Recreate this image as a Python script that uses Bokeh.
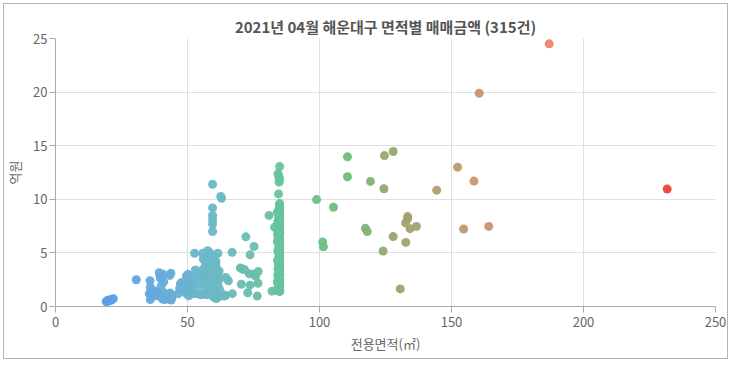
from bokeh.plotting import figure
from bokeh.models import Range1d, FixedTicker, ColumnDataSource, LinearColorMapper
from bokeh.embed import file_html
from bokeh.resources import INLINE

title_text = "2021년 04월 해운대구 면적별 매매금액 (315건)"
x_label = "전용면적(㎡)"
y_label = "억원"
x_ticks = [0, 50, 100, 150, 200, 250]
y_ticks = [0, 5, 10, 15, 20, 25]

# studio units (~20㎡)
area_g1 = [19.2, 19.6, 20.0, 20.3, 20.8, 21.4, 21.9]
price_g1 = [0.45, 0.55, 0.5, 0.6, 0.55, 0.65, 0.72]

# 30-46㎡
area_g2 = [30.6, 35.8, 35.9, 35.5, 36.3, 35.9, 36.5, 37.8, 38.5, 39.3, 39.6, 40.8,
           39.8, 41.0, 40.0, 39.0, 39.6, 40.2, 41.0, 41.5, 42.0, 42.5, 43.0, 43.7,
           43.3, 43.5, 44.0, 44.3, 42.8, 43.8, 41.3, 40.6, 37.0, 38.0]
price_g2 = [2.5, 2.4, 1.8, 1.2, 1.1, 0.65, 0.9, 1.2, 1.0, 3.15, 2.9, 3.0,
            2.6, 2.3, 1.9, 1.2, 1.0, 0.85, 1.3, 1.0, 0.8, 0.7, 0.9, 3.1,
            2.9, 1.25, 0.75, 1.0, 1.1, 0.6, 0.65, 0.7, 1.5, 1.4]

# 46-56㎡
area_g3 = [46.5, 47.3, 47.8, 48.5, 48.9, 49.6, 50.2, 49.6, 50.5, 51.0, 51.5, 52.0,
           52.1, 49.6, 50.5, 51.8, 53.3, 52.7, 54.3, 54.6, 53.5, 48.0, 47.0, 50.0,
           51.0, 55.0, 55.5, 54.8, 53.0, 55.2]
price_g3 = [1.2, 2.1, 2.25, 1.8, 2.0, 2.85, 3.0, 1.9, 2.2, 2.6, 2.9, 2.2,
            1.8, 1.2, 1.0, 1.2, 1.2, 4.97, 1.19, 2.97, 2.5, 1.5, 1.7, 1.4,
            1.6, 1.1, 3.1, 2.0, 3.4, 2.6]

# 55-65㎡
area_g4 = [59.5, 62.6, 62.9, 59.5, 59.5, 59.5, 59.5, 59.5, 55.8, 56.2, 56.0, 57.6,
           58.5, 59.0, 61.5, 59.8, 60.2, 59.3, 60.0,
           57.0, 57.5, 58.0, 58.4, 58.8, 59.2, 59.6, 60.0, 60.4, 60.8, 61.2, 59.0,
           59.4, 59.8, 60.2, 60.6, 61.0, 59.1, 58.7, 58.2, 57.8, 57.2, 56.8, 56.4,
           56.6, 57.0, 57.4, 58.0, 58.6, 59.2, 59.8, 60.4, 61.0, 60.6, 61.2, 61.6,
           61.8, 60.0, 59.5, 59.0, 58.5, 58.0, 57.6, 60.9, 61.3, 61.6, 60.1, 59.7,
           59.3, 58.9, 59.6, 60.3, 60.7, 61.1, 60.5, 59.9, 59.3, 58.7, 58.3, 57.7,
           57.3, 56.5, 55.5, 62.0, 62.3, 64.0, 64.4, 60.8, 61.4, 62.0, 56.0, 56.9,
           55.6, 58.1]
price_g4 = [11.4, 10.27, 10.1, 9.2, 8.5, 8.1, 7.7, 7.0, 4.97, 4.6, 4.4, 5.2,
            5.0, 4.8, 4.97, 4.6, 4.4, 4.2, 4.0,
            3.8, 3.5, 3.3, 3.0, 2.8, 2.6, 2.4, 2.2, 2.0, 1.8, 1.6, 3.9,
            3.7, 3.5, 3.3, 3.1, 2.9, 3.4, 3.6, 3.9, 2.7, 2.9, 3.1, 2.6,
            2.2, 2.0, 1.8, 1.5, 1.3, 1.1, 0.9, 0.8, 0.75, 1.2, 1.0, 1.3,
            0.9, 1.4, 1.6, 1.9, 2.1, 2.3, 2.5, 2.5, 2.2, 1.9, 2.8, 3.0,
            3.2, 4.3, 4.5, 3.7, 3.9, 3.5, 2.6, 1.8, 2.0, 2.4, 1.7, 1.2,
            1.1, 1.15, 1.2, 2.53, 1.5, 0.98, 1.04, 4.2, 3.0, 3.3, 3.5, 4.0,
            2.4, 4.6]

# 64-83㎡
area_g5 = [66.9, 72.1, 75.2, 73.7, 70.0, 70.8, 71.5, 73.4, 75.0, 76.8, 75.8, 70.4,
           73.7, 76.7, 72.8, 76.4, 80.9, 82.0, 83.0, 65.5, 67.0, 64.5]
price_g5 = [5.05, 6.5, 5.6, 4.82, 3.6, 3.5, 3.45, 3.05, 3.0, 3.27, 2.85, 2.08,
            1.99, 2.17, 1.28, 0.98, 8.5, 1.43, 7.4, 2.4, 1.2, 2.7]

# 84㎡ column
area_g6 = [84.9, 84.3, 84.6, 84.9, 84.7, 84.5, 84.9, 84.8, 84.9, 84.6, 84.9, 84.7,
           84.9, 84.5, 84.9, 84.8, 84.6, 84.9, 84.7, 84.9, 84.4, 84.9, 84.8, 84.6,
           84.9, 84.7, 84.9, 84.3, 84.8, 84.9, 84.6, 84.9, 84.7, 84.9, 84.5, 84.8,
           84.9, 84.6, 84.9, 84.7, 84.9, 84.4, 84.8, 84.9, 84.6, 84.9, 84.7, 84.9,
           84.5, 84.8, 84.9, 84.6, 84.9, 84.7, 84.9, 84.3, 84.8, 84.9, 84.6, 84.9,
           84.7, 84.1, 84.0, 84.2, 84.3, 84.1, 84.2, 84.0, 84.1, 83.9, 84.2, 84.0,
           84.9, 84.95, 84.95, 84.95, 84.95, 84.95, 84.95, 84.95, 84.95, 84.95, 84.95, 84.95,
           84.95, 84.95, 84.5, 84.5, 84.5, 84.5, 84.5, 84.5, 84.8, 84.8, 84.8, 84.8,
           84.8, 84.8, 83.5, 84.6]
price_g6 = [13.05, 12.4, 12.1, 11.9, 11.6, 10.5, 9.6, 9.4, 9.2, 9.0, 8.8, 8.6,
            8.4, 8.2, 8.0, 7.8, 7.6, 7.45, 7.3, 7.1, 6.95, 6.8, 6.65, 6.5,
            6.35, 6.2, 6.05, 5.9, 5.8, 5.65, 5.5, 5.4, 5.25, 5.1, 5.0, 4.9,
            4.75, 4.6, 4.5, 4.35, 4.2, 4.1, 4.0, 3.85, 3.7, 3.6, 3.45, 3.3,
            3.2, 3.05, 2.9, 2.75, 2.6, 2.45, 2.3, 2.15, 2.0, 1.85, 1.7, 1.55,
            1.45, 1.6, 2.3, 2.9, 3.5, 4.3, 5.2, 6.1, 6.7, 7.2, 7.9, 8.8,
            9.0, 7.7, 6.9, 6.0, 5.0, 4.0, 3.0, 2.0, 8.3, 5.6, 4.6, 3.6,
            2.5, 1.4, 4.3, 3.9, 6.3, 7.0, 2.6, 1.9, 5.3, 3.4, 4.45, 6.1,
            7.05, 2.25, 1.5, 8.5]

# 98-165㎡
area_g7 = [98.9, 105.3, 101.2, 101.5, 110.6, 110.6, 117.4, 118.1, 119.3, 124.1, 124.4,
           124.6, 127.9, 127.9, 130.6, 132.6, 132.7, 133.4, 133.4, 134.3, 136.7, 144.4,
           152.3, 154.6, 158.5, 160.5, 164.1]
price_g7 = [9.97, 9.26, 6.01, 5.57, 13.96, 12.1, 7.29, 6.99, 11.67, 5.18, 10.98,
            14.08, 14.46, 6.52, 1.64, 7.8, 5.98, 8.39, 8.2, 7.26, 7.47, 10.85,
            13.0, 7.23, 11.7, 19.9, 7.47]

# large units
area_g8 = [187.0, 231.7]
price_g8 = [24.5, 10.95]

area = area_g1 + area_g2 + area_g3 + area_g4 + area_g5 + area_g6 + area_g7 + area_g8
price = price_g1 + price_g2 + price_g3 + price_g4 + price_g5 + price_g6 + price_g7 + price_g8

# ---- colour scale (by area) ----
stops = [(19, (0x5b, 0x9e, 0xe6)), (40, (0x69, 0xab, 0xdc)), (58, (0x6b, 0xb8, 0xc6)),
         (85, (0x66, 0xc3, 0x9c)), (110, (0x6a, 0xbf, 0x78)), (130, (0x9c, 0xa4, 0x6e)),
         (160, (0xc9, 0x95, 0x6e)), (187, (0xf0, 0x81, 0x6f)), (232, (0xe8, 0x46, 0x3a))]
lo, hi = 19, 232
palette = []
for i in range(256):
    v = lo + (hi - lo) * i / 255
    for (a0, c0), (a1, c1) in zip(stops[:-1], stops[1:]):
        if a0 <= v <= a1:
            t = (v - a0) / (a1 - a0)
            c = tuple(int(round(c0[k] + (c1[k] - c0[k]) * t)) for k in range(3))
            break
    palette.append("#%02x%02x%02x" % c)
mapper = LinearColorMapper(palette=palette, low=lo, high=hi)

src = ColumnDataSource(dict(area=area, price=price))

FONT = "Noto Sans CJK KR"
p = figure(width=731, height=362, output_backend="svg", toolbar_location=None,
           x_range=Range1d(0, 250), y_range=Range1d(0, 25),
           min_border_left=55, min_border_right=16, min_border_top=38, min_border_bottom=56)
p.styles = {"outline": "1px solid #b4b4b4", "outline-offset": "-4px",
            "background-color": "white"}
p.border_fill_alpha = 0
p.outline_line_color = None
p.background_fill_color = "white"

p.title.text = title_text
p.title.align = "center"
p.title.text_font = FONT
p.title.text_font_size = "15px"
p.title.text_color = "#555555"
p.title.text_font_style = "bold"
p.title.offset = 0
p.title.standoff = 4

p.scatter("area", "price", source=src, size=9,
          fill_color={"field": "area", "transform": mapper},
          line_color=None, fill_alpha=0.95)

for ax in (p.xaxis, p.yaxis):
    ax.axis_line_color = "#aaaaaa"
    ax.major_tick_line_color = "#aaaaaa"
    ax.major_tick_out = 6
    ax.major_tick_in = 0
    ax.minor_tick_line_color = None
    ax.major_label_text_font = FONT
    ax.major_label_text_font_size = "13px"
    ax.major_label_text_color = "#666666"
    ax.axis_label_text_font = FONT
    ax.axis_label_text_font_size = "13px"
    ax.axis_label_text_color = "#666666"
    ax.axis_label_text_font_style = "normal"

p.xaxis.ticker = FixedTicker(ticks=x_ticks)
p.yaxis.ticker = FixedTicker(ticks=y_ticks)
p.xaxis.axis_label = x_label
p.yaxis.axis_label = y_label
p.xaxis.major_label_standoff = 4
p.xaxis.axis_label_standoff = 4
p.yaxis.major_label_standoff = 2
p.yaxis.axis_label_standoff = 6

p.xgrid.grid_line_color = "#e0e0e0"
p.ygrid.grid_line_color = "#e0e0e0"
p.xgrid.ticker = FixedTicker(ticks=x_ticks)
p.ygrid.ticker = FixedTicker(ticks=y_ticks)

open("out.html", "w").write(file_html(p, INLINE))
